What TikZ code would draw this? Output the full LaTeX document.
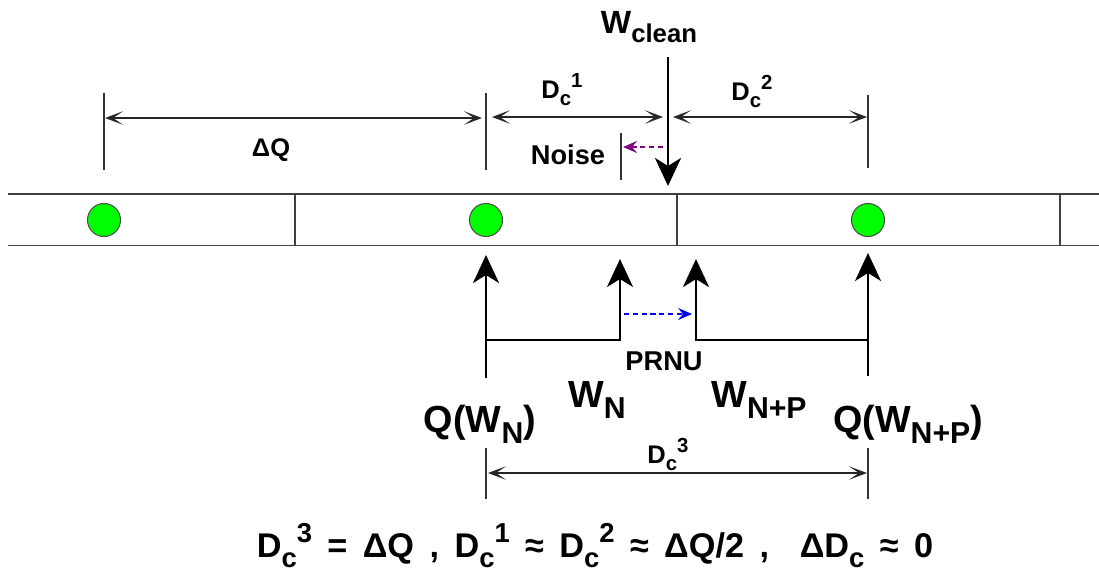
\documentclass[tikz,border=0pt]{standalone}
\usepackage{fontspec}
\setmainfont{Liberation Sans}
\usepackage{graphicx}
\usetikzlibrary{arrows.meta}
\definecolor{cellgreen}{HTML}{00FF00}
\definecolor{stripgray}{HTML}{404040}
\definecolor{noisepurple}{HTML}{800080}
\definecolor{prnublue}{HTML}{0000FF}
\newcommand{\lowtxt}[1]{\raisebox{-0.3em}{\scalebox{0.8}{#1}}}
\newcommand{\hightxt}[1]{\raisebox{0.42em}{\scalebox{0.8}{#1}}}
\newcommand{\Dc}[1]{D\lowtxt{c}\hightxt{#1}}

\begin{document}
\begin{tikzpicture}[x=0.02cm, y=-0.02cm,
    strip/.style={draw=stripgray, line width=1pt},
    cell/.style={circle, draw=black!70, line width=0.6pt, fill=cellgreen,
                 minimum size=0.66cm, inner sep=0pt},
    tick/.style={draw=black!80, line width=0.7pt},
    dim/.style={{Stealth[length=3.6mm,width=2.7mm,inset=2mm]}-{Stealth[length=3.6mm,width=2.7mm,inset=2mm]},
                draw=black!85, line width=0.9pt},
    bigarrow/.style={-{Stealth[length=5.6mm,width=5.2mm,inset=1.6mm]}, line width=1.6pt},
    drift/.style={-{Stealth[length=2.8mm,width=2.4mm,inset=1mm]}, dash pattern=on 3pt off 2pt, line width=0.8pt},
    lbl/.style={font=\bfseries\fontsize{15.5}{17}\selectfont, inner sep=0pt, anchor=base},
    dlbl/.style={lbl, font=\bfseries\fontsize{14.5}{16}\selectfont},
    big/.style={lbl, font=\bfseries\fontsize{21.5}{24}\selectfont}
  ]
    \useasboundingbox (0,0) rectangle (1099,576);

    % strip of cells
    \draw[strip] (8,194) -- (1099,194);
    \draw[strip] (8,245.5) -- (1099,245.5);
    \foreach \xd in {295,677,1060}
      \draw[strip] (\xd,194) -- (\xd,245.5);

    \node[cell] (cellA) at (104,220) {};
    \node[cell] (cellB) at (486,220) {};
    \node[cell] (cellC) at (868,220) {};

    % dimension ticks
    \draw[tick] (104,93) -- (104,170);
    \draw[tick] (486,93) -- (486,170);
    \draw[tick] (868,95) -- (868,168);
    \draw[tick] (621,133) -- (621,180);
    \draw[tick] (486,448) -- (486,499);
    \draw[tick] (868,448) -- (868,499);

    \coordinate (dqL)  at (105,118);
    \coordinate (dqR)  at (482,118);
    \coordinate (dcaL) at (492,117);
    \coordinate (dcaR) at (663,117);
    \coordinate (dcbL) at (673,117);
    \coordinate (dcbR) at (867,117);
    \coordinate (dccL) at (488,473);
    \coordinate (dccR) at (867,473);

    \draw[dim] (dqL)  -- (dqR);
    \draw[dim] (dcaL) -- (dcaR);
    \draw[dim] (dcbL) -- (dcbR);
    \draw[dim] (dccL) -- (dccR);

    % clean watermark
    \coordinate (wcTop) at (668,57);
    \coordinate (wcTip) at (668,186);
    \draw[bigarrow] (wcTop) -- (wcTip);

    % quantised positions
    \coordinate (qnBot)    at (486,378);
    \coordinate (qnTip)    at (486,255);
    \coordinate (qnCorner) at (486,340);
    \coordinate (wnTip)    at (620,259);
    \coordinate (qpBot)    at (868,376);
    \coordinate (qpTip)    at (868,253);
    \coordinate (qpCorner) at (868,340);
    \coordinate (wpTip)    at (696,259);

    \draw[bigarrow] (qnBot) -- (qnTip);
    \draw[bigarrow] (qnCorner) -| (wnTip);
    \draw[bigarrow] (qpBot) -- (qpTip);
    \draw[bigarrow] (qpCorner) -| (wpTip);

    % shifts
    \coordinate (nzFrom) at (663,147);
    \coordinate (nzTo)   at (623,147);
    \coordinate (prFrom) at (624,314);
    \coordinate (prTo)   at (692,314);
    \draw[drift, noisepurple] (nzFrom) -- (nzTo);
    \draw[drift, prnublue]    (prFrom) -- (prTo);

    % labels
    \node[lbl, font=\bfseries\fontsize{18.3}{20}\selectfont] (wclean) at (649,33) {W\lowtxt{clean}};
    \node[dlbl] (dca)   at (562,98)  {\Dc{1}};
    \node[dlbl] (dcb)   at (752,100) {\Dc{2}};
    \node[dlbl] (dcc)   at (668,463) {\Dc{3}};
    \node[dlbl] (dq)    at (271,156) {ΔQ};
    \node[lbl]  (noise) at (568,164) {Noise};
    \node[lbl]  (prnu)  at (664,370) {PRNU};
    \node[big]  (wn)    at (597,407) {W\lowtxt{N}};
    \node[big]  (wnp)   at (759,407) {W\lowtxt{N+P}};
    \node[big]  (qwn)   at (480,432) {Q(W\lowtxt{N})};
    \node[big]  (qwnp)  at (908,432) {Q(W\lowtxt{N+P})};
    \node[lbl, font=\bfseries\fontsize{19.5}{22}\selectfont] (rule) at (595,557)
      {\spaceskip=0.45em \Dc{3} = ΔQ , \Dc{1} ≈ \Dc{2} ≈ ΔQ/2 ,\ \ ΔD\lowtxt{c} ≈ 0};
  \end{tikzpicture}
\end{document}
